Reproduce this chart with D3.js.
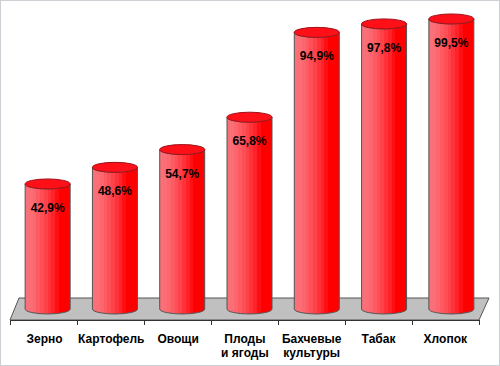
<!DOCTYPE html>
<html>
<head>
<meta charset="utf-8">
<script src="https://cdn.jsdelivr.net/npm/d3@7"></script>
<style>
  html, body { margin: 0; padding: 0; background: #fff; }
  svg { display: block; }
  text { font-family: "Liberation Sans", Arial, sans-serif; font-weight: bold; font-size: 12px; fill: #000; }
</style>
</head>
<body>
<svg id="chart"></svg>
<script>
const categories = ["Зерно", "Картофель", "Овощи", "Плоды|и ягоды", "Бахчевые|культуры", "Табак", "Хлопок"];
const values = [42.9, 48.6, 54.7, 65.8, 94.9, 97.8, 99.5];
const valueLabels = ["42,9%", "48,6%", "54,7%", "65,8%", "94,9%", "97,8%", "99,5%"];

const width = 500,
  height = 366;

const left = 10,
  right = 479,
  floorFront = 320,
  floorBack = 298,
  depthX = 9;

// cylinders stand a bit back on the floor, so they run further right than the ticks
const x = d3.scaleBand().domain(categories).range([14, 485]);
const xLabel = d3.scaleBand().domain(categories).range([11.1, 478.7]);
const y = d3.scaleLinear().domain([0, 100]).range([309, 17.5]);
// only used for the tick marks between the categories
const tickPos = d3.scaleLinear().domain([0, categories.length]).range([left, right]);

const cylWidth = 45,
  ry = 5;

const svg = d3.select("#chart").attr("width", width).attr("height", height);

// stepped shading, light on the left going to pure red
const shades = ["#fa7078", "#fb6e76", "#fc666e", "#fd5a62", "#fe4e56", "#fe424a", "#ff323a", "#ff2228", "#ff0f14", "#ff0000", "#ff0000", "#ff0000"];
const grad = svg.append("defs").append("linearGradient").attr("id", "cyl");
shades.forEach((c, i) => {
  grad.append("stop").attr("offset", i / shades.length).attr("stop-color", c);
  grad.append("stop").attr("offset", (i + 1) / shades.length).attr("stop-color", c);
});

svg.append("rect")
  .attr("x", 0.5).attr("y", 0.5)
  .attr("width", width - 1).attr("height", height - 1)
  .attr("fill", "#fff").attr("stroke", "#ccd0d4");

// floor
svg.append("path")
  .attr("d", d3.line()([
    [left, floorFront],
    [left + depthX, floorBack],
    [right + depthX + 1, floorBack],
    [right, floorFront],
  ]) + "Z")
  .attr("fill", "#c0c0c0")
  .attr("stroke", "#555")
  .attr("stroke-width", 1);

svg.append("g")
  .attr("transform", `translate(0,${floorFront})`)
  .call(d3.axisBottom(tickPos).ticks(categories.length).tickSize(5).tickSizeOuter(0).tickFormat(""))
  .call((g) => g.select(".domain").attr("stroke", "#333"))
  .call((g) => g.selectAll(".tick line").attr("stroke", "#333"));

const bars = svg.append("g")
  .selectAll("g")
  .data(categories)
  .join("g")
  .attr("transform", (d) => `translate(${x(d) + x.bandwidth() / 2},0)`);

const rx = cylWidth / 2;

bars.append("path")
  .attr("d", (d, i) => {
    const top = y(values[i]);
    return `M${-rx},${top}V${y(0)}A${rx},${ry} 0 0 0 ${rx},${y(0)}V${top}A${rx},${ry} 0 0 1 ${-rx},${top}Z`;
  })
  .attr("fill", "url(#cyl)")
  .attr("stroke", "#555")
  .attr("stroke-width", 1);

bars.append("ellipse")
  .attr("cy", (d, i) => y(values[i]))
  .attr("rx", rx)
  .attr("ry", ry)
  .attr("fill", "#ff1018")
  .attr("stroke", "#a01018")
  .attr("stroke-width", 1);

bars.append("text")
  .attr("x", 0)
  .attr("y", (d, i) => y(values[i]) + 28)
  .attr("text-anchor", "middle")
  .text((d, i) => valueLabels[i]);

// category names, split on | for two lines
svg.append("g")
  .selectAll("text")
  .data(categories)
  .join("text")
  .attr("text-anchor", "middle")
  .attr("transform", (d) => `translate(${xLabel(d) + xLabel.bandwidth() / 2},343)`)
  .selectAll("tspan")
  .data((d) => d.split("|"))
  .join("tspan")
  .attr("x", 0)
  .attr("dy", (d, i) => (i ? 14 : 0))
  .text((d) => d);
</script>
</body>
</html>
